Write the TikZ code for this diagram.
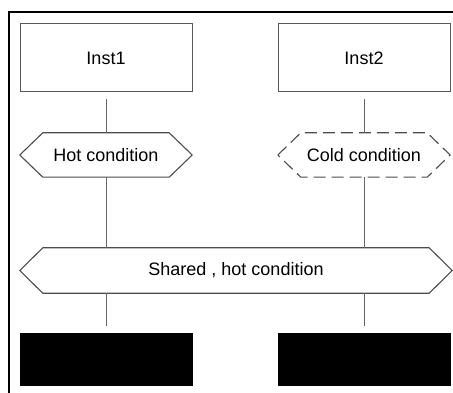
\documentclass[tikz,border=0pt]{standalone}
\usepackage{fontspec}
\setmainfont{Liberation Sans}
\begin{document}
\begin{tikzpicture}[x=1pt,y=-1pt,
  every node/.style={font=\fontsize{18}{20}\selectfont},
  inst/.style={draw=black!65, line width=1pt, minimum width=172pt, minimum height=68pt, inner sep=0pt},
  stopbox/.style={fill=black, draw=black, minimum width=172pt, minimum height=52pt, inner sep=0pt},
  cond/.style={minimum height=44pt, inner sep=0pt},
  hexline/.style={draw=black!70, line width=1.1pt},
  coldline/.style={hexline, dash pattern=on 12pt off 6pt},
  life/.style={draw=black!60, line width=1pt},
  frameline/.style={draw=black, line width=2pt}
]
\useasboundingbox (0,0) rectangle (453,393);
\begin{scope}
  \clip (0,0) rectangle (453,393);
  \draw[frameline] (9,12) rectangle (470,410);
\end{scope}

% instance heads
\node[inst] (inst1) at (106,58) {Inst1};
\node[inst] (inst2) at (364,58) {Inst2};

% conditions
\node[cond, minimum width=172pt] (hot) at (106,155) {Hot condition};
\node[cond, minimum width=172pt] (cold) at (364,155) {Cold condition};
\node[cond, minimum width=432pt, minimum height=45pt] (shared) at (236,270.5) {Shared , hot condition};

\draw[hexline] (hot.west) -- ([xshift=23pt]hot.north west) -- ([xshift=-23pt]hot.north east)
  -- (hot.east) -- ([xshift=-23pt]hot.south east) -- ([xshift=23pt]hot.south west) -- cycle;
\draw[coldline] (cold.west) -- ([xshift=23pt]cold.north west) -- ([xshift=-23pt]cold.north east)
  -- (cold.east) -- ([xshift=-23pt]cold.south east) -- ([xshift=23pt]cold.south west) -- cycle;
\draw[hexline] (shared.west) -- ([xshift=23pt]shared.north west) -- ([xshift=-23pt]shared.north east)
  -- (shared.east) -- ([xshift=-23pt]shared.south east) -- ([xshift=23pt]shared.south west) -- cycle;

% instance stops
\node[stopbox] (stop1) at (106,359) {};
\node[stopbox] (stop2) at (364,359) {};

% lifelines
\draw[life] ([yshift=-7pt]inst1.south) -- (hot.north);
\draw[life] (hot.south) -- (inst1.south |- shared.north);
\draw[life] (inst1.south |- shared.south) -- ([yshift=7pt]stop1.north);
\draw[life] ([yshift=-7pt]inst2.south) -- (cold.north);
\draw[life] (cold.south) -- (inst2.south |- shared.north);
\draw[life] (inst2.south |- shared.south) -- ([yshift=7pt]stop2.north);
\end{tikzpicture}
\end{document}
